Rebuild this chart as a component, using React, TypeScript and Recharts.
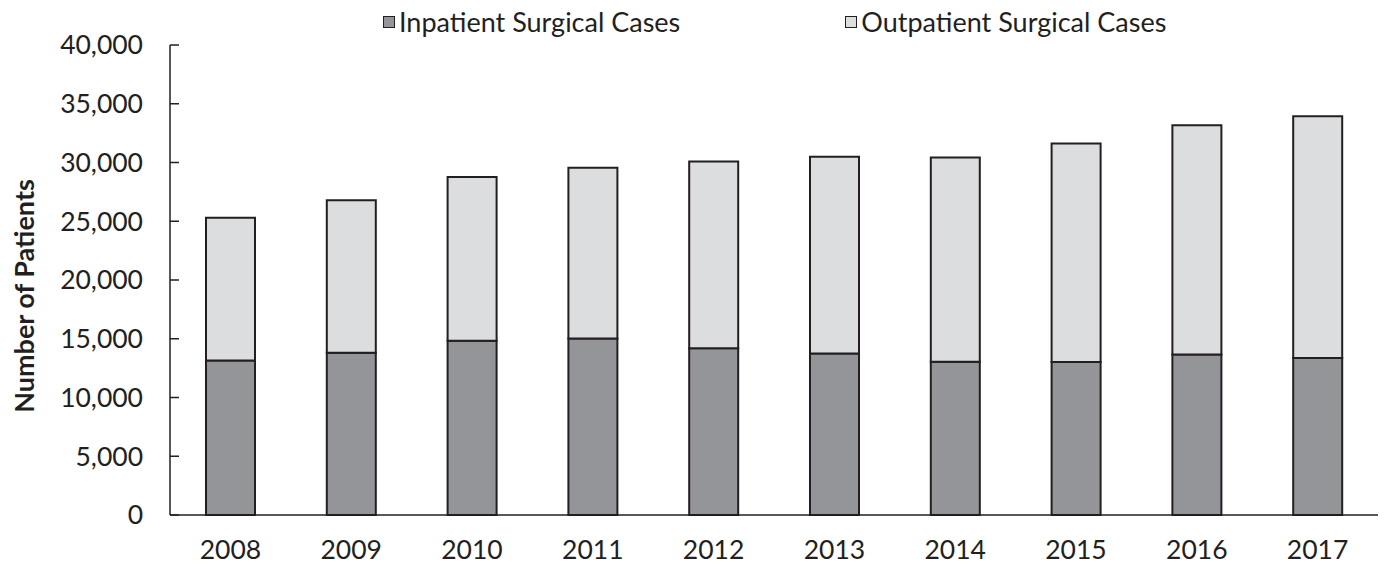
import { BarChart, Bar, XAxis, YAxis, Legend } from "recharts";

const years = ["2008", "2009", "2010", "2011", "2012", "2013", "2014", "2015", "2016", "2017"];
const inpatient = [13150, 13800, 14830, 15030, 14200, 13750, 13040, 13030, 13660, 13360];
const outpatient = [12150, 12980, 13930, 14520, 15890, 16730, 17390, 18590, 19520, 20580];
const yTicks = [0, 5000, 10000, 15000, 20000, 25000, 30000, 35000, 40000];

const INK = "#231f20";
const FONT = "Lato, 'Open Sans', sans-serif";

const data = years.map((year, i) => ({ year, inpatient: inpatient[i], outpatient: outpatient[i] }));

const LegendBox = ({ payload }: any) => (
  <div style={{ display: "flex", justifyContent: "flex-start", paddingLeft: 383, fontFamily: FONT, fontSize: 27, lineHeight: "30px", color: INK }}>
    {(payload || []).map((p: any, i: number) => (
      <div key={p.value} style={{ display: "flex", alignItems: "center", marginRight: i === 0 ? 165 : 0 }}>
        <span style={{ display: "inline-block", width: 10, height: 10, background: p.color, border: `1.5px solid ${INK}`, marginRight: 4 }} />
        <span>{p.value}</span>
      </div>
    ))}
  </div>
);

const YLabel = ({ viewBox }: any) => {
  const x = 23;
  const y = viewBox.y + viewBox.height / 2 + 16;
  return (
    <text x={x} y={y} transform={`rotate(-90, ${x}, ${y})`} textAnchor="middle" dominantBaseline="central"
      fontFamily={FONT} fontSize={27} fontWeight={700} fill={INK}>
      Number of Patients
    </text>
  );
};

export default function App() {
  return (
    <div style={{ position: "absolute", left: 0, top: 0, background: "#fff" }}>
      <BarChart width={1395} height={565} data={data} margin={{ top: 15, right: 17, bottom: 10, left: 0 }} barSize={49}>
        <Legend verticalAlign="top" align="left" content={<LegendBox />} wrapperStyle={{ top: 7, left: 0, width: 1395, height: 30 }} />
        <XAxis dataKey="year" tickLine={false} tickSize={0} tickMargin={25} height={40}
          axisLine={{ stroke: INK, strokeWidth: 1.5 }}
          tick={{ fontSize: 26.5, fill: INK, fontFamily: FONT }} />
        <YAxis width={170} domain={[0, 40000]} ticks={yTicks} interval={0} tickSize={-9} tickMargin={36}
          axisLine={{ stroke: INK, strokeWidth: 1.5 }} tickLine={{ stroke: INK, strokeWidth: 1.5 }}
          tickFormatter={(v: number) => v.toLocaleString("en-US")}
          tick={{ fontSize: 26.5, fill: INK, fontFamily: FONT }}
          label={<YLabel />} />
        <Bar dataKey="inpatient" name="Inpatient Surgical Cases" stackId="a" fill="#949599" stroke={INK} strokeWidth={2} isAnimationActive={false} />
        <Bar dataKey="outpatient" name="Outpatient Surgical Cases" stackId="a" fill="#dcdddf" stroke={INK} strokeWidth={2} isAnimationActive={false} />
      </BarChart>
    </div>
  );
}
